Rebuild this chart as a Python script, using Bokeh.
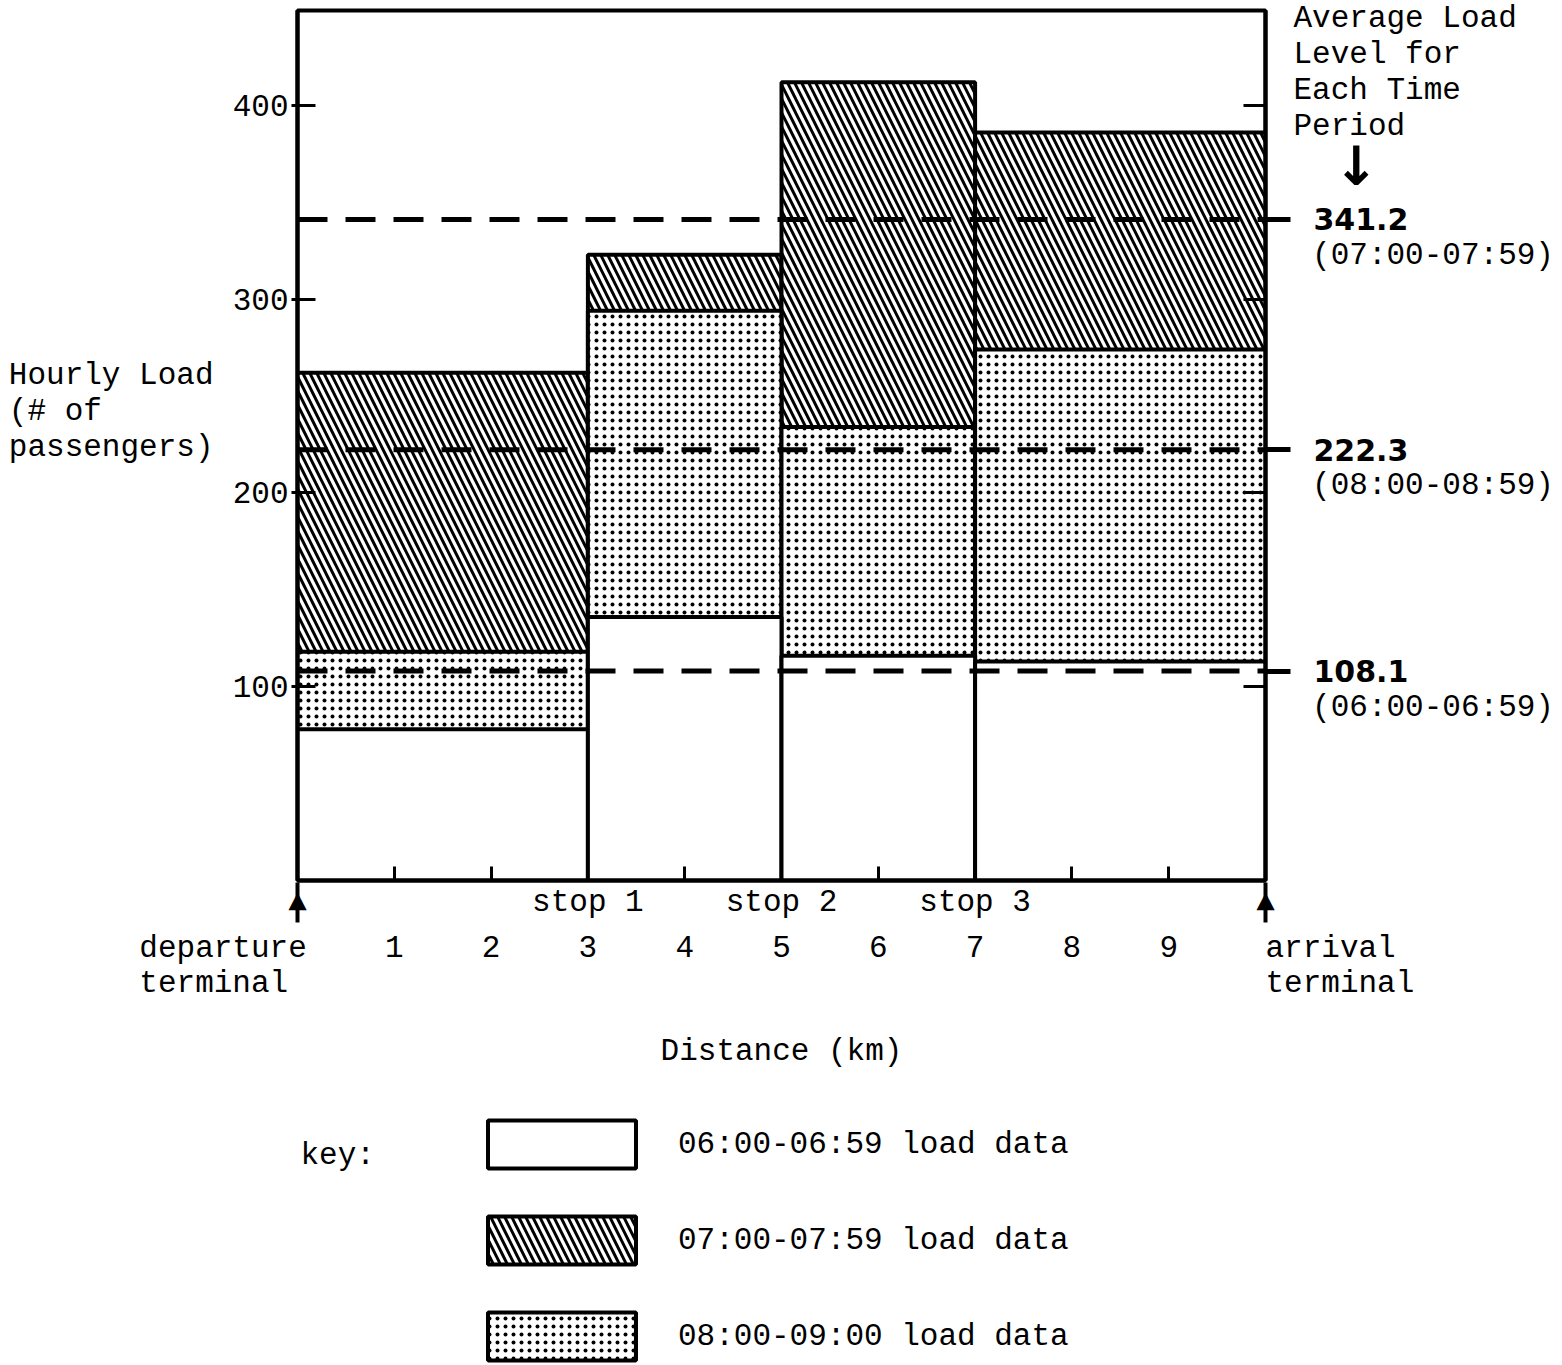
from bokeh.plotting import figure
from bokeh.models import Range1d, FixedTicker, LinearAxis, Span, Legend, LegendItem, Label
from bokeh.layouts import column
from bokeh.embed import file_html
from bokeh.resources import INLINE

# ---------------- data ----------------
seg_start = [0, 3, 5, 7]
seg_end = [3, 5, 7, 10]
load_0600 = [78, 136, 116, 113]
load_0700 = [262, 323, 412, 386]
load_0800 = [118, 294, 234, 274]
avg_periods = ["(06:00-06:59)", "(07:00-07:59)", "(08:00-08:59)"]
avg_values = [108.1, 341.2, 222.3]
legend_labels = ["06:00-06:59 load data", "07:00-07:59 load data", "08:00-09:00 load data"]
x_ticks = [1, 2, 3, 4, 5, 6, 7, 8, 9]
y_ticks = [100, 200, 300, 400]
stop_pos = [3, 5, 7]
stop_labels = ["stop 1", "stop 2", "stop 3"]

MONO = "Liberation Mono"
FS = "31px"
NB = "\u00a0"
NAN = float("nan")

# ---------------- layout (canvas px) ----------------
W = 1560
HM = 1100          # main figure height
HL = 263           # key figure height
FX0, FX1, FY1, FY0 = 297, 1265, 10, 880
XMAX, YMAX = 10, 449
YS = (FY0 - FY1) / YMAX


def dy(py):
    return round((FY0 - py) / YS, 3)


p = figure(width=W, height=HM, x_range=Range1d(0, XMAX), y_range=Range1d(0, YMAX),
           output_backend="svg", toolbar_location=None,
           x_axis_location=None, y_axis_location=None,
           min_border_left=FX0, min_border_right=W - FX1,
           min_border_top=FY1, min_border_bottom=HM - FY0)
p.grid.visible = False
p.outline_line_color = "black"
p.outline_line_width = 4
p.background_fill_color = "white"
p.border_fill_color = "white"


def style(ax, font=MONO, size=FS):
    ax.major_label_text_font = font
    ax.major_label_text_font_size = size
    ax.major_label_text_color = "black"
    ax.major_label_text_line_height = 1.02
    ax.axis_label_text_font = MONO
    ax.axis_label_text_font_size = FS
    ax.axis_label_text_font_style = "normal"
    ax.axis_label_text_color = "black"
    ax.major_tick_line_color = "black"
    ax.minor_tick_line_color = "black"
    ax.axis_line_color = "black"


def bare(ax):
    ax.axis_line_color = None
    ax.major_tick_line_color = None
    ax.minor_tick_line_color = None
    ax.major_tick_in = 0
    ax.major_tick_out = 0


# ---- left axes ----
L1 = LinearAxis(ticker=FixedTicker(ticks=y_ticks, minor_ticks=[]))
style(L1)
L1.major_tick_in = 18
L1.major_tick_out = 6
L1.major_tick_line_width = 3
L1.axis_line_width = 4
L1.major_label_standoff = 3
p.add_layout(L1, "left")

ytitle_pos = dy(411)
L2 = LinearAxis(ticker=FixedTicker(ticks=[ytitle_pos], minor_ticks=[]),
                major_label_overrides={ytitle_pos: "Hourly Load\n(# of" + NB * 6 + "\npassengers)"})
style(L2)
bare(L2)
L2.major_label_standoff = 16
p.add_layout(L2, "left")

# ---- right axes ----
R1 = LinearAxis(ticker=FixedTicker(ticks=avg_values, minor_ticks=y_ticks),
                major_label_overrides={v: f"{v:.1f}" for v in avg_values})
style(R1, font="DejaVu Sans", size="30px")
R1.major_label_text_font_style = "bold"
R1.major_tick_in = 0
R1.major_tick_out = 25
R1.major_tick_line_width = 5
R1.minor_tick_in = 22
R1.minor_tick_out = 0
R1.minor_tick_line_width = 3
R1.axis_line_width = 4
R1.major_label_standoff = 23
p.add_layout(R1, "right")

per_shift = 36 / YS
r2_ticks = [round(v - per_shift, 3) for v in avg_values]
r2_over = {t: NB + per for t, per in zip(r2_ticks, avg_periods)}
avg_title_pos = dy(72)
r2_over[avg_title_pos] = "Average Load\nLevel for\nEach Time\nPeriod"
R2 = LinearAxis(ticker=FixedTicker(ticks=r2_ticks + [avg_title_pos], minor_ticks=[]),
                major_label_overrides=r2_over)
style(R2)
bare(R2)
R2.major_label_standoff = -118
p.add_layout(R2, "right")

arrow_pos = dy(166)
R3 = LinearAxis(ticker=FixedTicker(ticks=[arrow_pos], minor_ticks=[]),
                major_label_overrides={arrow_pos: "\u2193"})
style(R3, font="DejaVu Sans", size="54px")
R3.major_label_text_font_style = "bold"
bare(R3)
R3.major_label_standoff = -223
p.add_layout(R3, "right")

# ---- bottom axes ----
b1_over = {0: "\u25b2", 10: "\u25b2"}
b1_over.update({s: t for s, t in zip(stop_pos, stop_labels)})
B1 = LinearAxis(ticker=FixedTicker(ticks=[0] + stop_pos + [XMAX],
                                   minor_ticks=[t for t in x_ticks if t not in stop_pos]),
                major_label_overrides=b1_over)
style(B1)
B1.major_tick_in = 14
B1.major_tick_out = 0
B1.minor_tick_in = 14
B1.minor_tick_out = 0
B1.major_tick_line_width = 3
B1.minor_tick_line_width = 3
B1.axis_line_width = 4
B1.major_label_standoff = 4
p.add_layout(B1, "below")

B2 = LinearAxis(ticker=FixedTicker(ticks=[0] + x_ticks + [XMAX], minor_ticks=[0, XMAX]),
                major_label_overrides={0: "departure" + NB * 8 + "\nterminal" + NB * 9,
                                       XMAX: NB * 8 + "arrival" + NB + "\n" + NB * 8 + "terminal"})
style(B2)
B2.axis_line_color = None
B2.major_tick_line_color = None
B2.major_tick_in = 0
B2.major_tick_out = 0
B2.minor_tick_in = 40
B2.minor_tick_out = 0
B2.minor_tick_line_width = 4
B2.major_label_standoff = 8
B2.axis_label = "Distance (km)"
B2.axis_label_standoff = 30
p.add_layout(B2, "below")

# ---------------- bars ----------------
bar_styles = dict(
    h07=dict(fill_color="white", hatch_pattern="\\", hatch_color="black",
             hatch_scale=14, hatch_weight=3, line_color="black", line_width=4),
    h08=dict(fill_color="white", hatch_pattern=".", hatch_color="black",
             hatch_scale=8, hatch_weight=2.5, line_color="black", line_width=4),
    h06=dict(fill_color="white", line_color="black", line_width=4),
)
p.quad(left=seg_start, right=seg_end, bottom=0, top=load_0700, **bar_styles["h07"])
p.quad(left=seg_start, right=seg_end, bottom=0, top=load_0800, **bar_styles["h08"])
p.quad(left=seg_start, right=seg_end, bottom=0, top=load_0600, **bar_styles["h06"])

# ---------------- average lines ----------------
for v in avg_values:
    p.add_layout(Span(location=v, dimension="width", line_color="black",
                      line_width=5, line_dash="30 18"))

# ---------------- key (separate strip below, same frame columns) ----------------
lg = figure(width=W, height=HL, x_range=Range1d(FX0, FX1), y_range=Range1d(0, HL),
            output_backend="svg", toolbar_location=None,
            x_axis_location=None, y_axis_location=None,
            min_border_left=FX0, min_border_right=W - FX1, min_border_top=0,
            min_border_bottom=0)
lg.grid.visible = False
lg.outline_line_color = None
lg.border_fill_color = "white"
# legend swatches only (no visible marks of their own)
k06 = lg.quad(left=[NAN], right=[NAN], bottom=[NAN], top=[NAN], **bar_styles["h06"])
k07 = lg.quad(left=[NAN], right=[NAN], bottom=[NAN], top=[NAN], **bar_styles["h07"])
k08 = lg.quad(left=[NAN], right=[NAN], bottom=[NAN], top=[NAN], **bar_styles["h08"])
# Bokeh insets area swatches by 10% on each side
GW, GH, SP = 185, 60, 36
KEY_TOP = 1114 - HM
LEG_H = 3 * GH + 2 * SP
legend = Legend(items=[LegendItem(label=legend_labels[0], renderers=[k06]),
                       LegendItem(label=legend_labels[1], renderers=[k07]),
                       LegendItem(label=legend_labels[2], renderers=[k08])],
                location=(469 - FX0, HL - KEY_TOP - LEG_H), orientation="vertical",
                glyph_width=GW, glyph_height=GH, spacing=SP, padding=0, margin=0,
                label_standoff=24, label_text_font=MONO, label_text_font_size=FS,
                label_text_color="black", label_height=GH,
                border_line_alpha=0, background_fill_alpha=0)
lg.add_layout(legend)
lg.add_layout(Label(x=300, y=HL - (1155 - HM), text="key:", text_font=MONO,
                    text_font_size=FS, text_align="left", text_baseline="middle",
                    text_color="black"))

open("out.html", "w").write(file_html(column(p, lg, spacing=0), INLINE))
